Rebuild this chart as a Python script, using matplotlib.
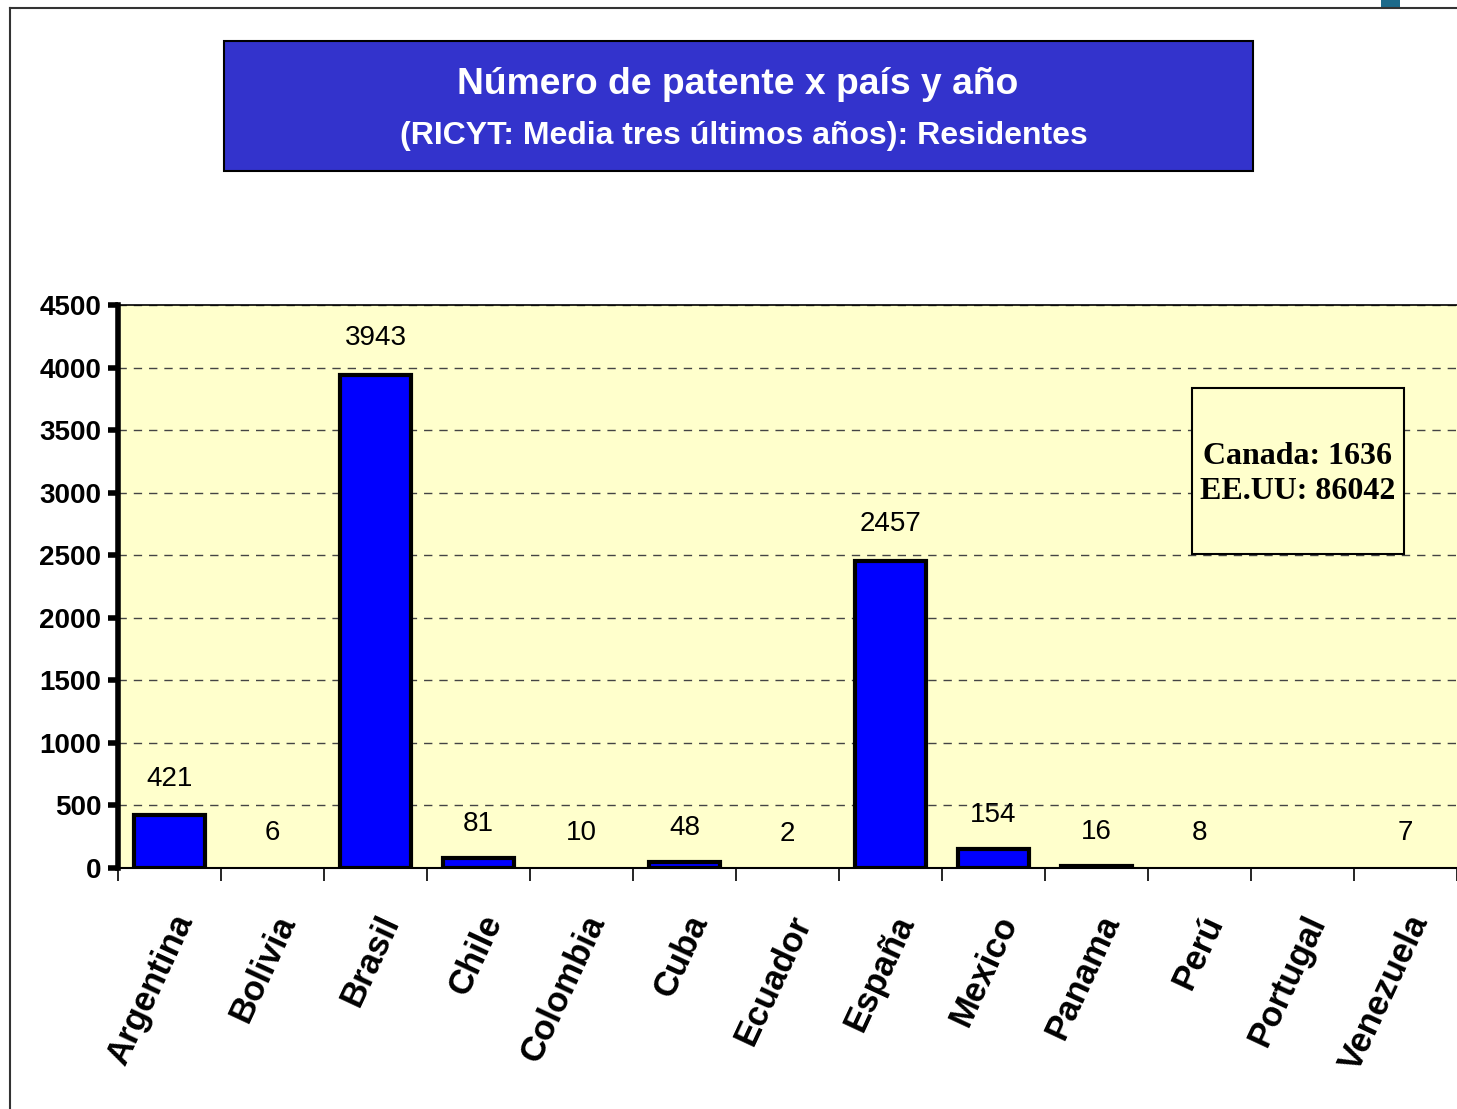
import numpy as np
import matplotlib.pyplot as plt
from matplotlib.patches import Rectangle
from matplotlib.lines import Line2D

# data
paises = ["Argentina", "Bolivia", "Brasil", "Chile", "Colombia", "Cuba", "Ecuador",
          "España", "Mexico", "Panama", "Perú", "Portugal", "Venezuela"]
patentes = [421, 6, 3943, 81, 10, 48, 2, 2457, 154, 16, 8, np.nan, 7]
yticks = [0, 500, 1000, 1500, 2000, 2500, 3000, 3500, 4000, 4500]

titulo1 = "Número de patente x país y año"
titulo2 = "(RICYT: Media tres últimos años): Residentes"
nota = "Canada: 1636\nEE.UU: 86042"

plt.rcParams['font.family'] = ['Liberation Sans', 'DejaVu Sans']

W, H = 1457, 1109
fig = plt.figure(figsize=(W / 100, H / 100), dpi=100)
fig.patch.set_facecolor("white")

# slide frame
fig.add_artist(Line2D([10 / W, 10 / W], [0, 1 - 8 / H], transform=fig.transFigure, color="#333333", lw=1.5))
fig.add_artist(Line2D([10 / W, 1], [1 - 8 / H, 1 - 8 / H], transform=fig.transFigure, color="#333333", lw=1.5))
fig.add_artist(Rectangle((1381 / W, 1 - 8 / H), 19 / W, 8 / H, transform=fig.transFigure,
                         facecolor="#1d6a8a", edgecolor="none"))

# title box
fig.add_artist(Rectangle((224 / W, 1 - 171 / H), (1253 - 224) / W, (171 - 41) / H,
                         transform=fig.transFigure, facecolor="#3333CC", edgecolor="black", lw=1.5))
fig.text(738 / W, 1 - 84 / H, titulo1, color="white", fontsize=26.8, fontweight="bold",
         ha="center", va="center")
fig.text(744 / W, 1 - 136 / H, titulo2, color="white", fontsize=23, fontweight="bold",
         ha="center", va="center")

# plot area
ax = fig.add_axes([118 / W, 1 - 868 / H, (W - 118) / W, (868 - 305) / H])
ax.set_facecolor("#FFFFCC")
x = np.arange(len(paises))
# bars only a pixel or so tall vanish into the axis line in the original
bordes = ["black" if (not np.isnan(v) and v > 12) else "none" for v in patentes]
caras = ["#0000FF" if (not np.isnan(v) and v > 12) else "none" for v in patentes]
ax.bar(x, patentes, width=0.68, color=caras, edgecolor=bordes, linewidth=3, zorder=3)
ax.set_xlim(-0.5, len(paises) - 0.5)
ax.set_ylim(0, 4500)
ax.set_yticks(yticks)
ax.set_yticklabels([str(v) for v in yticks], fontsize=20, fontweight="bold")
ax.yaxis.grid(True, linestyle=(0, (6, 5)), color="#444444", lw=1)
ax.set_axisbelow(True)

ax.set_xticks(x)
ax.set_xticklabels(paises, rotation=65, ha="right", rotation_mode="anchor",
                   fontsize=25, fontweight="bold")
ax.tick_params(axis="x", length=0, pad=30)
ax.set_xticks(np.arange(len(paises) + 1) - 0.5, minor=True)
ax.tick_params(axis="x", which="minor", length=9, width=1.2, direction="out")
ax.tick_params(axis="y", length=7, width=4, direction="out", pad=5)

ax.spines["left"].set_linewidth(4)
ax.spines["bottom"].set_linewidth(1.5)
ax.spines["top"].set_linewidth(1.2)
ax.spines["right"].set_visible(False)

for xi, v in zip(x, patentes):
    if np.isnan(v):
        continue
    off = 290 if v > 300 else 270
    ax.text(xi, v + off, str(int(v)), ha="center", va="center", fontsize=20)

# note box
ax.add_patch(Rectangle(((1192 - 118) / 1339, (868 - 554) / 563), (1404 - 1192) / 1339,
                       (554 - 388) / 563, transform=ax.transAxes, facecolor="#FFFFCC",
                       edgecolor="black", lw=1.5, zorder=4))
ax.text(0.881, 0.700, nota, transform=ax.transAxes, ha="center", va="center",
        fontsize=23, fontweight="bold", family="Liberation Serif", linespacing=1.3,
        zorder=5)

fig.savefig("out.png", dpi=100)
